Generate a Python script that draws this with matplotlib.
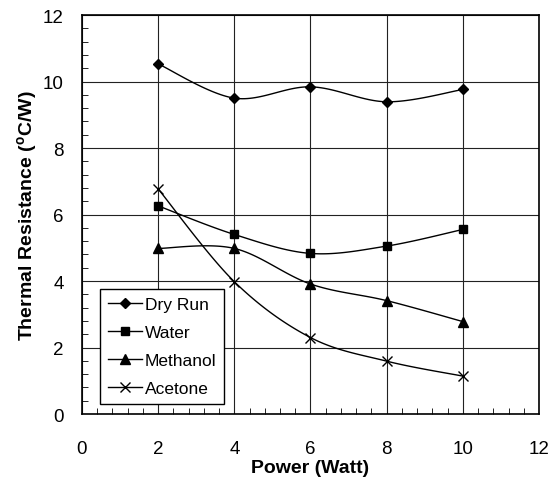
import numpy as np
import matplotlib
matplotlib.use("Agg")
import matplotlib.pyplot as plt
from matplotlib.ticker import MultipleLocator

plt.rcParams['font.family'] = ['Liberation Sans', 'DejaVu Sans']
plt.rcParams['mathtext.fontset'] = 'custom'
plt.rcParams['mathtext.rm'] = 'Liberation Sans'
plt.rcParams['mathtext.bf'] = 'Liberation Sans:bold'

# data
power = [2, 4, 6, 8, 10]
dry_run = [10.53, 9.50, 9.84, 9.39, 9.76]
water = [6.26, 5.40, 4.83, 5.05, 5.55]
methanol = [4.98, 4.98, 3.91, 3.41, 2.78]
acetone = [6.77, 3.98, 2.30, 1.59, 1.14]


def smooth(x, y, n=30):
    # excel style smoothed line (catmull-rom bezier)
    x = np.asarray(x, float)
    y = np.asarray(y, float)
    px = np.concatenate([[x[0]], x, [x[-1]]])
    py = np.concatenate([[y[0]], y, [y[-1]]])
    xs, ys = [], []
    t = np.linspace(0, 1, n)
    for i in range(1, len(px) - 2):
        p0 = np.array([px[i], py[i]])
        p3 = np.array([px[i + 1], py[i + 1]])
        p1 = p0 + (np.array([px[i + 1], py[i + 1]]) - np.array([px[i - 1], py[i - 1]])) / 6
        p2 = p3 - (np.array([px[i + 2], py[i + 2]]) - np.array([px[i], py[i]])) / 6
        b = ((1 - t) ** 3)[:, None] * p0 + (3 * (1 - t) ** 2 * t)[:, None] * p1 \
            + (3 * (1 - t) * t ** 2)[:, None] * p2 + (t ** 3)[:, None] * p3
        xs.extend(b[:, 0])
        ys.extend(b[:, 1])
    return xs, ys


fig = plt.figure(figsize=(5.51, 4.85), dpi=100)
ax = fig.add_axes([0.1488, 0.1443, 0.8294, 0.8227])

series = [
    ("Dry Run", dry_run, "D", 5),
    ("Water", water, "s", 5.5),
    ("Methanol", methanol, "^", 6.5),
    ("Acetone", acetone, "x", 6.5),
]
for name, vals, mk, ms in series:
    sx, sy = smooth(power, vals)
    ax.plot(sx, sy, color="black", lw=1.0)
    ax.plot(power, vals, linestyle="none", marker=mk, ms=ms, color="black", mew=1.0)
    ax.plot([], [], color="black", lw=1.0, marker=mk, ms=ms, mew=1.0, label=name)

ax.set_xlim(0, 12)
ax.set_ylim(0, 12)
ax.xaxis.set_major_locator(MultipleLocator(2))
ax.yaxis.set_major_locator(MultipleLocator(2))
ax.xaxis.set_minor_locator(MultipleLocator(0.4))
ax.yaxis.set_minor_locator(MultipleLocator(0.4))
ax.tick_params(which="both", direction="in", labelsize=13.5, color="black")
ax.tick_params(axis="x", which="major", length=0, pad=19)
ax.tick_params(axis="y", which="major", length=0, pad=13)
ax.tick_params(which="minor", length=4)
ax.grid(True, which="major", color="#222222", lw=0.8)
ax.set_axisbelow(True)
for s in ax.spines.values():
    s.set_linewidth(1.2)

ax.set_xlabel("Power (Watt)", fontsize=14, fontweight="bold", labelpad=1)
ax.set_ylabel(r"Thermal Resistance ($\mathbf{^{o}}$C/W)", fontsize=14, fontweight="bold", labelpad=3)

leg = ax.legend(loc="lower left", bbox_to_anchor=(0.039, 0.025), fontsize=12.5, fancybox=False,
                framealpha=1, edgecolor="black", handlelength=2.0, borderpad=0.45,
                labelspacing=0.75, handletextpad=0.15, borderaxespad=0)
leg.get_frame().set_linewidth(1.0)

fig.savefig("out.png", dpi=100)
